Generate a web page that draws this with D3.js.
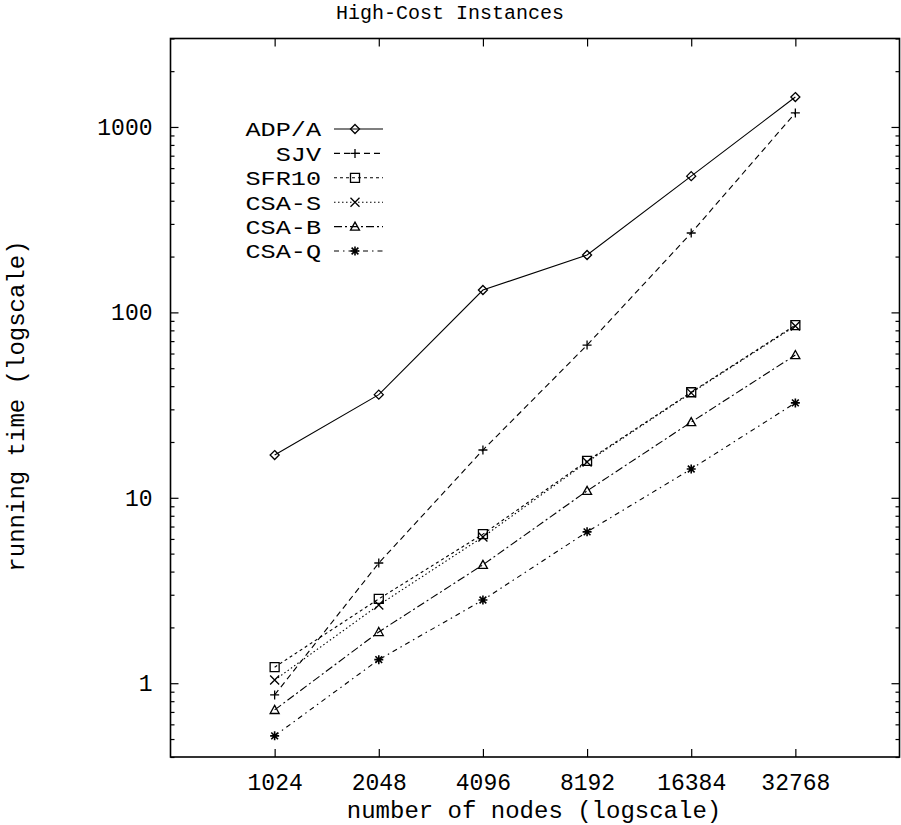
<!DOCTYPE html>
<html><head><meta charset="utf-8">
<script src="https://cdn.jsdelivr.net/npm/d3@7"></script>
<style>
body{margin:0;background:#fff;}
svg text{font-family:"Liberation Mono","DejaVu Sans Mono",monospace;fill:#000;}
</style></head>
<body><svg id="c" width="901" height="825"></svg>
<script>
const nodes = [1024, 2048, 4096, 8192, 16384, 32768];
const xTickLabels = ["1024","2048","4096","8192","16384","32768"];
const yTickValues = [1, 10, 100, 1000];
const yTickLabels = ["1","10","100","1000"];
const seriesNames = ["ADP/A","SJV","SFR10","CSA-S","CSA-B","CSA-Q"];
const adpA = [17.0, 36.0, 132, 204, 543, 1450];
const sjv  = [0.865, 4.45, 18.1, 66.6, 268, 1190];
const sfr10 = [1.22, 2.85, 6.37, 15.8, 37.1, 85.3];
const csaS = [1.04, 2.64, 6.15, 15.6, 36.8, 84.5];
const csaB = [0.718, 1.89, 4.35, 10.9, 25.6, 58.9];
const csaQ = [0.52, 1.34, 2.81, 6.55, 14.3, 32.5];
const seriesValues = [adpA, sjv, sfr10, csaS, csaB, csaQ];
const dashes = [null, "6,4", "3,3", "1.5,2.5", "8,3,2,3", "5,4,1.5,4"];
const markers = ["diamond","plus","square","cross","triangle","star"];

const svg = d3.select("#c");
const L=170.5, R=899.5, T=38.5, B=757;
const x = d3.scaleLog().base(2).domain([512, 65536]).range([L, R]);
const y = d3.scaleLog().domain([0.4, 3000]).range([B, T]);

// minor y ticks
const minor = [];
[0.1,1,10,100,1000].forEach(d=>{for(let k=2;k<=9;k++){const v=d*k; if(v>=0.4&&v<=3000) minor.push(v);}});

function styleAxis(g){g.select(".domain").remove(); g.selectAll("line").attr("stroke","#000").attr("stroke-width",1.2);}

svg.append("g").attr("transform",`translate(0,${B})`)
  .call(d3.axisBottom(x).tickValues(nodes).tickSize(-8).tickPadding(17).tickFormat((d,i)=>xTickLabels[i]))
  .call(styleAxis).selectAll("text").attr("font-size",23).attr("font-family","Liberation Mono");
svg.append("g").attr("transform",`translate(0,${T})`)
  .call(d3.axisTop(x).tickValues(nodes).tickSize(-8).tickFormat(""))
  .call(styleAxis);
svg.append("g").attr("transform",`translate(${L},0)`)
  .call(d3.axisLeft(y).tickValues(yTickValues).tickSize(-8).tickPadding(18).tickFormat((d,i)=>yTickLabels[i]))
  .call(styleAxis).selectAll("text").attr("font-size",23).attr("font-family","Liberation Mono");
svg.append("g").attr("transform",`translate(${L},0)`)
  .call(d3.axisLeft(y).tickValues(minor).tickSize(-4).tickFormat(""))
  .call(styleAxis);
svg.append("g").attr("transform",`translate(${R},0)`)
  .call(d3.axisRight(y).tickValues(yTickValues).tickSize(-8).tickFormat(""))
  .call(styleAxis);
svg.append("g").attr("transform",`translate(${R},0)`)
  .call(d3.axisRight(y).tickValues(minor).tickSize(-4).tickFormat(""))
  .call(styleAxis);

svg.append("rect").attr("x",L).attr("y",T).attr("width",R-L).attr("height",B-T)
  .attr("fill","none").attr("stroke","#000").attr("stroke-width",1.6);

// titles
svg.append("text").attr("x",450).attr("y",19).attr("text-anchor","middle").attr("font-size",20).text("High-Cost Instances");
svg.append("text").attr("x",534).attr("y",818).attr("text-anchor","middle").attr("font-size",24).text("number of nodes (logscale)");
svg.append("text").attr("transform","translate(24,406) rotate(-90)").attr("text-anchor","middle").attr("font-size",24).text("running time (logscale)");

function drawMarker(g, type, cx, cy){
  const s=4.5;
  const p = g.append("path").attr("fill","none").attr("stroke","#000").attr("stroke-width",1.3);
  let d="";
  if(type==="diamond") d=`M${cx},${cy-s}L${cx+s},${cy}L${cx},${cy+s}L${cx-s},${cy}Z`;
  else if(type==="plus") d=`M${cx-s},${cy}H${cx+s}M${cx},${cy-s}V${cy+s}`;
  else if(type==="square") d=`M${cx-s},${cy-s}H${cx+s}V${cy+s}H${cx-s}Z`;
  else if(type==="cross") d=`M${cx-s},${cy-s}L${cx+s},${cy+s}M${cx+s},${cy-s}L${cx-s},${cy+s}`;
  else if(type==="triangle") d=`M${cx},${cy-s}L${cx+s},${cy+s*0.8}L${cx-s},${cy+s*0.8}Z`;
  else if(type==="star") d=`M${cx-s},${cy}H${cx+s}M${cx},${cy-s}V${cy+s}M${cx-s*0.75},${cy-s*0.75}L${cx+s*0.75},${cy+s*0.75}M${cx+s*0.75},${cy-s*0.75}L${cx-s*0.75},${cy+s*0.75}`;
  p.attr("d",d);
  if(type==="star") p.attr("stroke-width",1.6);
}

const line = d3.line().x((d,i)=>x(nodes[i])).y(d=>y(d));
seriesValues.forEach((vals,si)=>{
  const g = svg.append("g");
  g.append("path").datum(vals).attr("d",line).attr("fill","none").attr("stroke","#000")
    .attr("stroke-width",1.1).attr("stroke-dasharray",dashes[si]);
  vals.forEach((v,i)=>drawMarker(g, markers[si], x(nodes[i]), y(v)));
});

// legend
const legY0=129, legDy=24.4;
seriesNames.forEach((name,si)=>{
  const yy = legY0 + si*legDy;
  const g = svg.append("g");
  g.append("text").attr("transform",`translate(321,${yy}) scale(1.2,1)`).attr("dy","0.35em")
    .attr("text-anchor","end").attr("font-size",21).text(name);
  g.append("line").attr("x1",334).attr("x2",383).attr("y1",yy).attr("y2",yy).attr("stroke","#000")
    .attr("stroke-width",1.1).attr("stroke-dasharray",dashes[si]);
  drawMarker(g, markers[si], 355, yy);
});
</script></body></html>
